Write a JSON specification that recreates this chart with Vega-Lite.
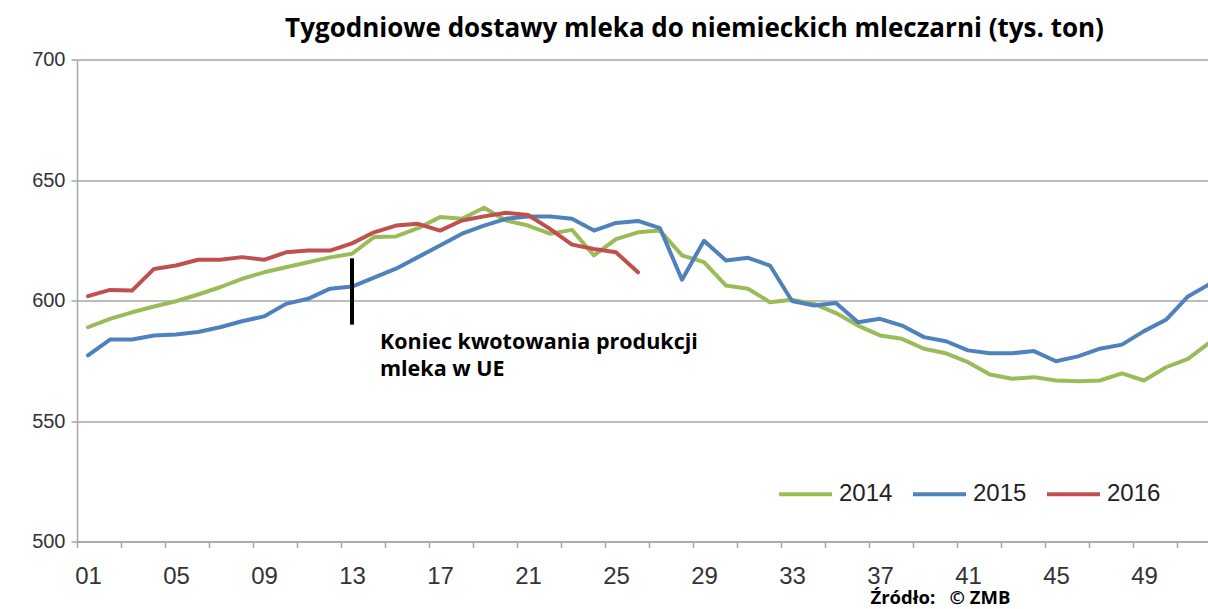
{
  "$schema": "https://vega.github.io/schema/vega-lite/v6.json",
  "width": 1131,
  "height": 482,
  "autosize": {"type": "none"},
  "padding": {"left": 77, "top": 59.5, "right": 0, "bottom": 67.5},
  "background": "white",
  "config": {"view": {"stroke": null}, "font": "Liberation Sans"},
  "title": {
    "text": "Tygodniowe dostawy mleka do niemieckich mleczarni (tys. ton)",
    "font": "Open Sans", "fontWeight": "bold", "fontSize": 26, "color": "#000000",
    "anchor": "middle", "dx": 52, "baseline": "alphabetic", "offset": -13
  },
  "datasets": {
    "milk": [
      {"week": 1, "year": "2014", "value": 588.9}, {"week": 2, "year": "2014", "value": 592.4}, {"week": 3, "year": "2014", "value": 595.1}, {"week": 4, "year": "2014", "value": 597.5},
      {"week": 5, "year": "2014", "value": 599.7}, {"week": 6, "year": "2014", "value": 602.5}, {"week": 7, "year": "2014", "value": 605.5}, {"week": 8, "year": "2014", "value": 609.0},
      {"week": 9, "year": "2014", "value": 611.7}, {"week": 10, "year": "2014", "value": 613.8}, {"week": 11, "year": "2014", "value": 615.9}, {"week": 12, "year": "2014", "value": 617.9},
      {"week": 13, "year": "2014", "value": 619.4}, {"week": 14, "year": "2014", "value": 626.3}, {"week": 15, "year": "2014", "value": 626.6}, {"week": 16, "year": "2014", "value": 630.0},
      {"week": 17, "year": "2014", "value": 634.6}, {"week": 18, "year": "2014", "value": 633.9}, {"week": 19, "year": "2014", "value": 638.5}, {"week": 20, "year": "2014", "value": 633.2},
      {"week": 21, "year": "2014", "value": 631.1}, {"week": 22, "year": "2014", "value": 627.7}, {"week": 23, "year": "2014", "value": 629.3}, {"week": 24, "year": "2014", "value": 618.7},
      {"week": 25, "year": "2014", "value": 625.5}, {"week": 26, "year": "2014", "value": 628.3}, {"week": 27, "year": "2014", "value": 629.0}, {"week": 28, "year": "2014", "value": 618.7},
      {"week": 29, "year": "2014", "value": 615.9}, {"week": 30, "year": "2014", "value": 606.2}, {"week": 31, "year": "2014", "value": 604.9}, {"week": 32, "year": "2014", "value": 599.3},
      {"week": 33, "year": "2014", "value": 600.3}, {"week": 34, "year": "2014", "value": 598.6}, {"week": 35, "year": "2014", "value": 594.8}, {"week": 36, "year": "2014", "value": 589.6},
      {"week": 37, "year": "2014", "value": 585.5}, {"week": 38, "year": "2014", "value": 584.1}, {"week": 39, "year": "2014", "value": 580.0}, {"week": 40, "year": "2014", "value": 578.1},
      {"week": 41, "year": "2014", "value": 574.4}, {"week": 42, "year": "2014", "value": 569.3}, {"week": 43, "year": "2014", "value": 567.5}, {"week": 44, "year": "2014", "value": 568.2},
      {"week": 45, "year": "2014", "value": 566.8}, {"week": 46, "year": "2014", "value": 566.5}, {"week": 47, "year": "2014", "value": 566.8}, {"week": 48, "year": "2014", "value": 569.8},
      {"week": 49, "year": "2014", "value": 566.8}, {"week": 50, "year": "2014", "value": 572.3}, {"week": 51, "year": "2014", "value": 575.8}, {"week": 52, "year": "2014", "value": 582.7},
      {"week": 1, "year": "2015", "value": 577.2}, {"week": 2, "year": "2015", "value": 583.8}, {"week": 3, "year": "2015", "value": 583.8}, {"week": 4, "year": "2015", "value": 585.5},
      {"week": 5, "year": "2015", "value": 585.9}, {"week": 6, "year": "2015", "value": 586.9}, {"week": 7, "year": "2015", "value": 588.9}, {"week": 8, "year": "2015", "value": 591.4},
      {"week": 9, "year": "2015", "value": 593.4}, {"week": 10, "year": "2015", "value": 598.6}, {"week": 11, "year": "2015", "value": 600.7}, {"week": 12, "year": "2015", "value": 604.9},
      {"week": 13, "year": "2015", "value": 605.8}, {"week": 14, "year": "2015", "value": 609.5}, {"week": 15, "year": "2015", "value": 613.2}, {"week": 16, "year": "2015", "value": 618.0},
      {"week": 17, "year": "2015", "value": 622.8}, {"week": 18, "year": "2015", "value": 627.7}, {"week": 19, "year": "2015", "value": 631.1}, {"week": 20, "year": "2015", "value": 633.9},
      {"week": 21, "year": "2015", "value": 634.9}, {"week": 22, "year": "2015", "value": 634.9}, {"week": 23, "year": "2015", "value": 633.9}, {"week": 24, "year": "2015", "value": 629.0},
      {"week": 25, "year": "2015", "value": 632.2}, {"week": 26, "year": "2015", "value": 633.0}, {"week": 27, "year": "2015", "value": 630.0}, {"week": 28, "year": "2015", "value": 608.6},
      {"week": 29, "year": "2015", "value": 624.8}, {"week": 30, "year": "2015", "value": 616.6}, {"week": 31, "year": "2015", "value": 617.7}, {"week": 32, "year": "2015", "value": 614.5},
      {"week": 33, "year": "2015", "value": 599.8}, {"week": 34, "year": "2015", "value": 597.9}, {"week": 35, "year": "2015", "value": 599.0}, {"week": 36, "year": "2015", "value": 591.0},
      {"week": 37, "year": "2015", "value": 592.4}, {"week": 38, "year": "2015", "value": 589.6}, {"week": 39, "year": "2015", "value": 584.8}, {"week": 40, "year": "2015", "value": 583.1},
      {"week": 41, "year": "2015", "value": 579.3}, {"week": 42, "year": "2015", "value": 578.1}, {"week": 43, "year": "2015", "value": 578.1}, {"week": 44, "year": "2015", "value": 579.0},
      {"week": 45, "year": "2015", "value": 574.8}, {"week": 46, "year": "2015", "value": 576.8}, {"week": 47, "year": "2015", "value": 580.0}, {"week": 48, "year": "2015", "value": 581.7},
      {"week": 49, "year": "2015", "value": 587.3}, {"week": 50, "year": "2015", "value": 592.0}, {"week": 51, "year": "2015", "value": 601.7}, {"week": 52, "year": "2015", "value": 606.9},
      {"week": 1, "year": "2016", "value": 601.8}, {"week": 2, "year": "2016", "value": 604.4}, {"week": 3, "year": "2016", "value": 604.1}, {"week": 4, "year": "2016", "value": 613.1},
      {"week": 5, "year": "2016", "value": 614.5}, {"week": 6, "year": "2016", "value": 616.9}, {"week": 7, "year": "2016", "value": 616.9}, {"week": 8, "year": "2016", "value": 618.0},
      {"week": 9, "year": "2016", "value": 616.9}, {"week": 10, "year": "2016", "value": 620.0}, {"week": 11, "year": "2016", "value": 620.7}, {"week": 12, "year": "2016", "value": 620.7},
      {"week": 13, "year": "2016", "value": 623.7}, {"week": 14, "year": "2016", "value": 628.3}, {"week": 15, "year": "2016", "value": 631.1}, {"week": 16, "year": "2016", "value": 631.8},
      {"week": 17, "year": "2016", "value": 629.0}, {"week": 18, "year": "2016", "value": 633.2}, {"week": 19, "year": "2016", "value": 634.9}, {"week": 20, "year": "2016", "value": 636.4},
      {"week": 21, "year": "2016", "value": 635.5}, {"week": 22, "year": "2016", "value": 629.7}, {"week": 23, "year": "2016", "value": 623.2}, {"week": 24, "year": "2016", "value": 621.4},
      {"week": 25, "year": "2016", "value": 620.0}, {"week": 26, "year": "2016", "value": 611.7}
    ],
    "marker": [{"week": 13, "low": 590, "high": 617.5}],
    "note": [
      {"week": 14.27, "value": 582.2, "label": "Koniec kwotowania produkcji"},
      {"week": 14.27, "value": 571.0, "label": "mleka w UE"}
    ]
  },
  "layer": [
    {
      "data": {"name": "milk"},
      "mark": {"type": "line", "strokeWidth": 4, "clip": true, "strokeJoin": "round", "strokeCap": "round"},
      "encoding": {
        "x": {
          "field": "week", "type": "quantitative",
          "scale": {"domain": [0.5, 51.91], "nice": false, "zero": false},
          "axis": {
            "values": [0.5,1.5,2.5,3.5,4.5,5.5,6.5,7.5,8.5,9.5,10.5,11.5,12.5,13.5,14.5,15.5,16.5,17.5,18.5,19.5,20.5,21.5,22.5,23.5,24.5,25.5,26.5,27.5,28.5,29.5,30.5,31.5,32.5,33.5,34.5,35.5,36.5,37.5,38.5,39.5,40.5,41.5,42.5,43.5,44.5,45.5,46.5,47.5,48.5,49.5,50.5,51.5],
            "labelExpr": "(datum.value + 0.5) % 4 == 1 ? (((datum.value + 0.5) < 10 ? '0' : '') + (datum.value + 0.5)) : ''",
            "labelOffset": 11, "labelOverlap": false, "labelFlush": false, "labelBound": false,
            "labelFont": "Liberation Sans", "labelFontSize": 24, "labelColor": "#333333", "labelPadding": 17,
            "domainColor": "#a6a6a6", "domainWidth": 1.5, "tickColor": "#a6a6a6", "tickWidth": 1.5, "tickSize": 6,
            "grid": false,
            "title": "Źródło:\u00a0\u00a0 © ZMB",
            "titleFont": "Open Sans", "titleFontWeight": "bold", "titleFontSize": 18.5, "titleColor": "#000000",
            "titleAnchor": "start", "titleAlign": "left", "titleBaseline": "middle", "titleX": 793, "titleY": 56
          }
        },
        "y": {
          "field": "value", "type": "quantitative",
          "scale": {"domain": [500, 700], "nice": false, "zero": false},
          "axis": {
            "values": [500, 550, 600, 650, 700],
            "labelFont": "Liberation Sans", "labelFontSize": 20, "labelColor": "#333333", "labelPadding": 6,
            "domainColor": "#a6a6a6", "domainWidth": 1.5, "tickColor": "#a6a6a6", "tickWidth": 1.5, "tickSize": 6,
            "grid": true, "gridColor": "#a6a6a6", "gridWidth": 1.5,
            "title": null
          }
        },
        "color": {
          "field": "year", "type": "nominal",
          "scale": {"domain": ["2014", "2015", "2016"], "range": ["#9bbb59", "#4f81bd", "#c0504d"]},
          "legend": {
            "orient": "none", "legendX": 700, "legendY": 406, "direction": "horizontal", "title": null,
            "symbolType": "stroke", "symbolSize": 2809, "symbolStrokeWidth": 4,
            "labelFont": "Liberation Sans", "labelFontSize": 24, "labelColor": "#222222", "labelOffset": 5,
            "columnPadding": 12, "padding": 0
          }
        }
      }
    },
    {
      "data": {"name": "marker"},
      "mark": {"type": "rule", "color": "#000000", "strokeWidth": 4},
      "encoding": {
        "x": {"field": "week", "type": "quantitative"},
        "y": {"field": "low", "type": "quantitative"},
        "y2": {"field": "high"}
      }
    },
    {
      "data": {"name": "note"},
      "mark": {"type": "text", "align": "left", "baseline": "middle", "font": "Open Sans", "fontWeight": "bold", "fontSize": 21.5, "color": "#000000"},
      "encoding": {
        "x": {"field": "week", "type": "quantitative"},
        "y": {"field": "value", "type": "quantitative"},
        "text": {"field": "label", "type": "nominal"}
      }
    }
  ]
}
